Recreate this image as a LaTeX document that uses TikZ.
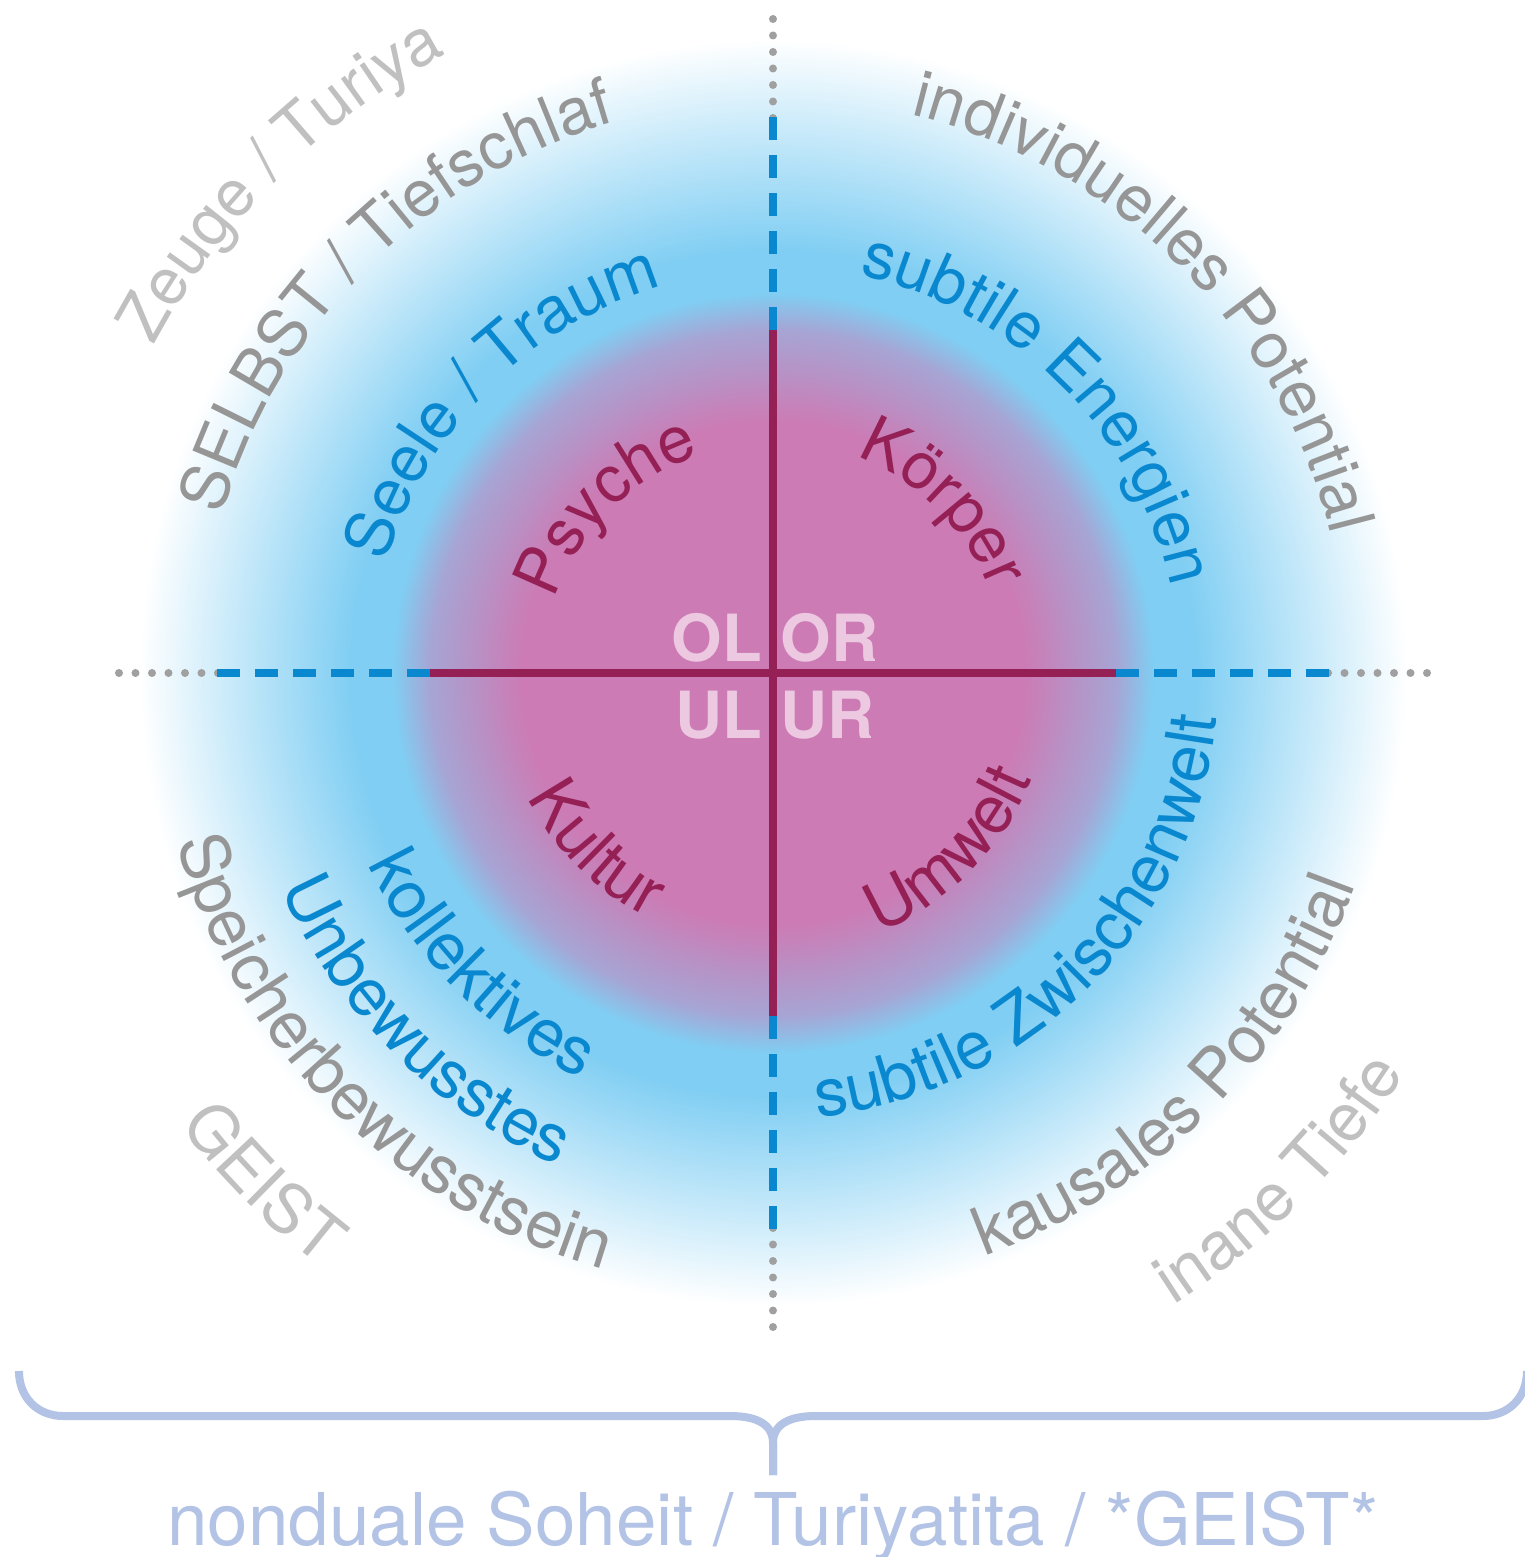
\documentclass[tikz,border=0pt]{standalone}
\usepackage{fontspec}
\setmainfont{TeX Gyre Heros}
\usetikzlibrary{decorations.text}

\definecolor{r204g123b180}{RGB}{204,123,180}
\definecolor{r166g165b212}{RGB}{166,165,212}
\definecolor{r128g206b243}{RGB}{128,206,243}
\definecolor{r148g32b86}{RGB}{148,32,86}
\definecolor{r10g136b207}{RGB}{10,136,207}
\definecolor{r150g150b150}{RGB}{150,150,150}
\definecolor{r192g192b192}{RGB}{192,192,192}
\definecolor{r160g160b160}{RGB}{160,160,160}
\definecolor{r236g200b225}{RGB}{236,200,225}
\definecolor{r179g195b229}{RGB}{179,195,229}

\pgfdeclareradialshading{ringglow}{\pgfpoint{0bp}{0bp}}{%
  color(0bp)=(r204g123b180); color(9.5bp)=(r204g123b180);
  color(13bp)=(r166g165b212); color(14.4bp)=(r128g206b243);
  color(16bp)=(r128g206b243); color(24bp)=(white); color(50bp)=(white)}

\newcommand\topfont{\fontsize{18.5pt}{18.5pt}\selectfont}
\newcommand\lowfont{\fontsize{19pt}{19pt}\selectfont}
\newcommand\magtop{\color{r148g32b86}\topfont}
\newcommand\bluetop{\color{r10g136b207}\topfont}
\newcommand\graytop{\color{r150g150b150}\topfont}
\newcommand\paletop{\color{r192g192b192}\topfont}
\newcommand\maglow{\color{r148g32b86}\lowfont}
\newcommand\bluelow{\color{r10g136b207}\lowfont}
\newcommand\graylow{\color{r150g150b150}\lowfont}
\newcommand\palelow{\color{r192g192b192}\lowfont}

\tikzset{
  ringtext/.style={decorate, decoration={text along path, text align=center, text={#1}}},
  solidaxis/.style={draw=r148g32b86, line width=0.08cm},
  dashaxis/.style={draw=r10g136b207, line width=0.08cm, dash pattern=on 0.23cm off 0.15cm},
  dotaxis/.style={draw=r160g160b160, line width=0.08cm, line cap=round, dash pattern=on 0pt off 0.165cm},
  quadlabel/.style={inner sep=0pt, text=r236g200b225, font=\fontsize{18.5pt}{18.5pt}\selectfont\bfseries},
  braceline/.style={draw=r179g195b229, line width=0.08cm},
}

\begin{document}
\begin{tikzpicture}
% \clip (-7.73,-8.84) rectangle (7.51,6.73);
\useasboundingbox (-7.73,-8.84) rectangle (7.51,6.73);
\fill[white] (-7.73,-8.84) rectangle (7.51,6.73);

% Shading the disk
\shade[shading=ringglow] (0,0) circle (6.6);

% Drawing dotted axis ends
\draw[dotaxis] (0,5.55) -- (0,6.55);
\draw[dotaxis] (0,-5.55) -- (0,-6.55);
\draw[dotaxis] (-5.55,0) -- (-6.55,0);
\draw[dotaxis] (5.55,0) -- (6.55,0);

% Drawing dashed axis parts
\draw[dashaxis] (0,3.43) -- (0,5.56);
\draw[dashaxis] (0,-3.43) -- (0,-5.56);
\draw[dashaxis] (-3.43,0) -- (-5.56,0);
\draw[dashaxis] (3.43,0) -- (5.56,0);

% Drawing solid cross
\draw[solidaxis] (-3.43,0) -- (3.43,0);
\draw[solidaxis] (0,3.43) -- (0,-3.43);

% Marking quadrants
\node (ol) [quadlabel, anchor=base east] at (-0.10,0.113) {OL};
\node (or) [quadlabel, anchor=base west] at (0.07,0.113) {OR};
\node (ul) [quadlabel, anchor=base east] at (-0.10,-0.653) {UL};
\node (ur) [quadlabel, anchor=base west] at (0.07,-0.653) {UR};

% Writing upper left rings
\path[ringtext={|\magtop|Psyche}] (180:2.30) arc[start angle=180, end angle=90, radius=2.30];
\path[ringtext={|\bluetop|Seele / Traum}] (180:4.02) arc[start angle=180, end angle=90, radius=4.02];
\path[ringtext={|\graytop|SELBST / Tiefschlaf}] (180:5.73) arc[start angle=180, end angle=90, radius=5.73];
\path[ringtext={|\paletop|Zeuge / Turiya}] (180:7.00) arc[start angle=180, end angle=90, radius=7.00];

% Writing upper right rings
\path[ringtext={|\magtop|Körper}] (90:2.32) arc[start angle=90, end angle=0, radius=2.32];
\path[ringtext={|\bluetop|subtile Energien}] (90:4.07) arc[start angle=90, end angle=0, radius=4.07];
\path[ringtext={|\graytop|individuelles Potential}] (90:5.75) arc[start angle=90, end angle=0, radius=5.75];

% Writing lower left rings
\path[ringtext={|\maglow|Kultur}] (180:2.75) arc[start angle=180, end angle=270, radius=2.75];
\path[ringtext={|\bluelow|kollektives}] (180:4.48) arc[start angle=180, end angle=270, radius=4.48];
\path[ringtext={|\bluelow|Unbewusstes}] (180:5.37) arc[start angle=180, end angle=270, radius=5.37];
\path[ringtext={|\graylow|Speicherbewusstsein}] (180:6.20) arc[start angle=180, end angle=270, radius=6.20];
\path[ringtext={|\palelow|GEIST}] (180:7.46) arc[start angle=180, end angle=270, radius=7.46];

% Writing lower right rings
\path[ringtext={|\maglow|Umwelt}] (270:2.80) arc[start angle=270, end angle=360, radius=2.80];
\path[ringtext={|\bluelow|subtile Zwischenwelt}] (270:4.46) arc[start angle=270, end angle=360, radius=4.46];
\path[ringtext={|\graylow|kausales Potential}] (270:6.20) arc[start angle=270, end angle=360, radius=6.20];
\path[ringtext={|\palelow|inane Tiefe}] (270:7.48) arc[start angle=270, end angle=360, radius=7.48];

% Drawing brace
\coordinate (braceL) at (-7.54,-6.98);
\coordinate (braceR) at (7.54,-6.98);
\coordinate (braceTip) at (0,-8.02);
\draw[braceline] (braceL) .. controls (-7.54,-7.25) and (-7.35,-7.43) .. (-7.10,-7.43) -- (-0.43,-7.43) .. controls (-0.15,-7.43) and (0,-7.52) .. (0,-7.70) -- (braceTip);
\draw[braceline] (braceR) .. controls (7.54,-7.25) and (7.35,-7.43) .. (7.10,-7.43) -- (0.43,-7.43) .. controls (0.15,-7.43) and (0,-7.52) .. (0,-7.70) -- (braceTip);

% Marking brace label
\node (soheit) [anchor=base, inner sep=0pt, text=r179g195b229, font=\fontsize{20.7pt}{20.7pt}\selectfont] at (0,-8.72) {nonduale Soheit / Turiyatita / *GEIST*};
\end{tikzpicture}
\end{document}
